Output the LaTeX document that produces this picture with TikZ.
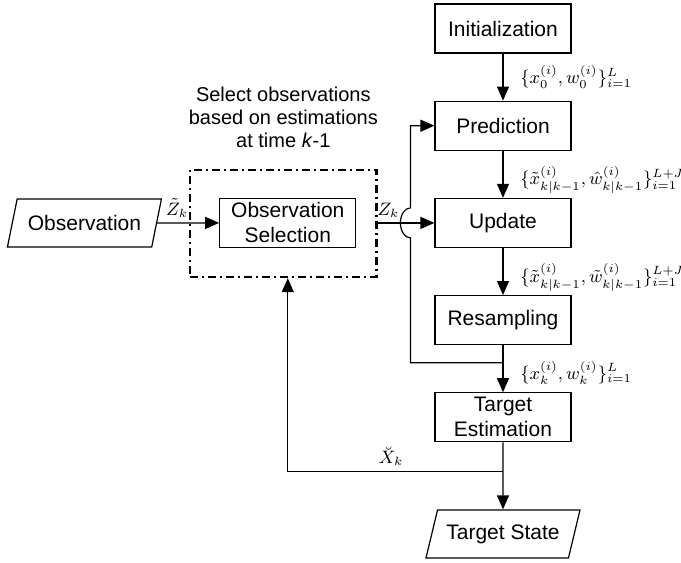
\documentclass[tikz,border=0pt]{standalone}
\usepackage[no-math]{fontspec}
\setmainfont{Liberation Sans}
\usepackage{amsmath}
\usepackage{tikz}
\usetikzlibrary{arrows.meta,positioning,shapes.geometric,calc,fit}

\begin{document}
\begin{tikzpicture}[
    node distance=23.5pt,
    line width=0.6pt,
    procbox/.style={draw, align=center, minimum width=68pt, minimum height=24.5pt, inner sep=1pt,
      font=\fontsize{10.5}{12.5}\selectfont},
    iobox/.style={draw, trapezium, trapezium left angle=63.4, trapezium right angle=116.6,
      trapezium stretches body, minimum width=77pt, minimum height=24pt, inner sep=1pt,
      font=\fontsize{10.5}{12.5}\selectfont},
    dashbox/.style={draw, line width=1.2pt, dash pattern=on 4pt off 2pt on 1pt off 2pt, inner sep=0pt},
    mathlbl/.style={font=\fontsize{9}{11}\selectfont},
    >={Triangle[length=7pt, width=6pt]}
  ]
    \useasboundingbox (0,0) rectangle (340.5pt,-281.5pt);
    \node[procbox] (init) at (251.5pt,-14.25pt) {Initialization};
    \node[procbox, below=of init] (pred) {Prediction};
    \node[procbox, below=of pred] (update) {Update};
    \node[procbox, below=of update] (resamp) {Resampling};
    \node[procbox, below=of resamp] (targest) {Target\\Estimation};
    \node[iobox, below=33.5pt of targest] (tstate) {Target State};
    \node[procbox, left=39pt of update] (obssel) {Observation\\Selection};
    \node[iobox, left=31pt of obssel] (obs) {Observation};
    \node[dashbox, fit={($(obssel.north west)+(-14.5pt,14pt)$) ($(obssel.south east)+(10pt,-14.5pt)$)}] (selbox) {};
    \node[above=7pt of selbox, align=center, font=\fontsize{10}{11.3}\selectfont] (selnote)
      {Select observations\\based on estimations\\at time \textit{k}-1};
    \coordinate (jn) at ($(resamp.south)!0.375!(targest.north)$);
    \coordinate (fb) at ($(targest.south)!0.43!(tstate.north)$);
    \draw[->] (init) -- node[mathlbl, right=5pt]{$\{x_0^{(i)},w_0^{(i)}\}_{i=1}^{L}$} (pred);
    \draw[->] (pred) -- node[mathlbl, right=5pt, yshift=-3pt]{$\{\tilde{x}_{k|k-1}^{(i)},\hat{w}_{k|k-1}^{(i)}\}_{i=1}^{L+J}$} (update);
    \draw[->] (update) -- node[mathlbl, right=5pt, yshift=-3pt]{$\{\tilde{x}_{k|k-1}^{(i)},\tilde{w}_{k|k-1}^{(i)}\}_{i=1}^{L+J}$} (resamp);
    \draw[->] (resamp) -- node[mathlbl, right=5pt, yshift=-2pt]{$\{x_k^{(i)},w_k^{(i)}\}_{i=1}^{L}$} (targest);
    \draw[->] (targest) -- (tstate);
    \draw[->] (obs) -- node[mathlbl, pos=0.32, above=-1pt]{$\tilde{Z}_k$} (obssel);
    \draw[->] (update.west -| selbox.east) -- node[mathlbl, pos=0.19, above=-1pt]{$Z_k$} (update.west);
    \draw[->] (jn) -| ($(update.west)+(-12pt,-7.5pt)$)
      arc[start angle=270, end angle=90, x radius=5pt, y radius=7.5pt] |- (pred.west);
    \draw[->] (fb) -| node[mathlbl, pos=0.26, above=-1pt]{$\breve{X}_k$} (obssel |- selbox.south);
  \end{tikzpicture}
\end{document}
